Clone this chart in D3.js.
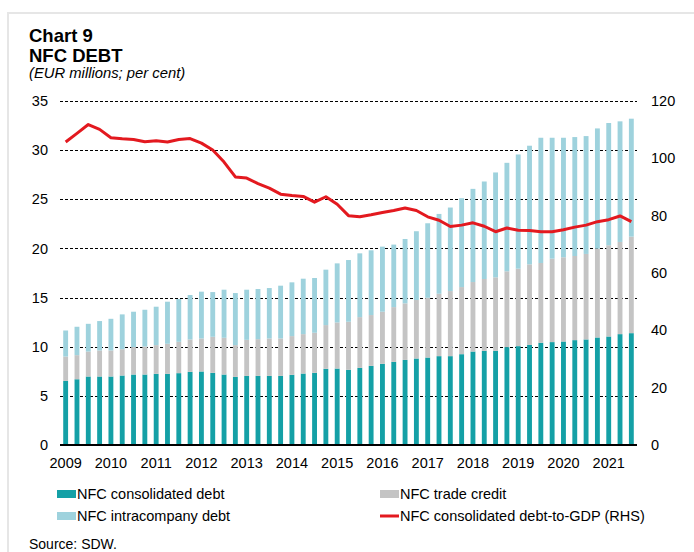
<!DOCTYPE html>
<html>
<head>
<meta charset="utf-8">
<script src="https://cdn.jsdelivr.net/npm/d3@7"></script>
<style>
  html, body { margin: 0; padding: 0; background: #fff; }
  svg { display: block; font-family: "Liberation Sans", Arial, sans-serif; }
</style>
</head>
<body>
<svg id="chart" width="694" height="552"></svg>
<script>
// Quarters 2009Q1 .. 2021Q3
const years = [2009,2010,2011,2012,2013,2014,2015,2016,2017,2018,2019,2020,2021];
const quarters = [];
years.forEach(y => [1,2,3,4].forEach(q => { if (!(y === 2021 && q === 4)) quarters.push(y + "Q" + q); }));

// Cumulative top of each stacked segment (EUR millions, LHS)
const consolidatedDebt = [6.52,6.69,6.97,6.97,6.97,7.07,7.17,7.17,7.24,7.24,7.31,7.44,7.48,
  7.34,7.17,6.93,7.03,7.03,7.03,7.03,7.14,7.27,7.34,7.75,7.78,7.65,
  7.85,8.05,8.26,8.46,8.66,8.80,8.90,9.04,9.04,9.24,9.51,9.58,
  9.58,9.96,10.06,10.19,10.40,10.47,10.53,10.67,10.74,10.94,11.04,11.28,11.38];
const tradeCreditTop = [9.00,9.14,9.51,9.62,9.62,9.75,9.96,10.02,10.16,10.30,10.50,10.74,10.84,
  11.01,10.91,10.16,10.70,10.77,10.84,10.84,11.08,11.28,11.42,12.20,12.47,12.54,
  13.01,13.22,13.56,14.03,14.41,14.75,14.98,15.39,15.66,16.07,16.58,16.89,
  17.06,17.67,17.94,18.38,18.52,18.96,19.10,19.23,19.44,19.98,20.32,20.66,21.20];
const intracompanyTop = [11.65,12.03,12.33,12.61,12.84,13.29,13.56,13.76,14.07,14.58,14.85,15.26,15.60,
  15.56,15.80,15.46,15.80,15.87,15.97,16.21,16.55,16.92,16.99,17.84,18.48,18.82,
  19.50,19.81,20.18,20.39,20.96,21.75,22.56,23.51,24.16,25.11,26.06,26.81,
  27.73,28.71,29.56,30.45,31.26,31.26,31.26,31.33,31.43,32.21,32.76,32.93,33.20];
// Debt-to-GDP (per cent, RHS)
const debtToGDP = [105.7,108.7,111.8,110.1,107.2,106.8,106.6,105.8,106.1,105.7,106.6,106.9,105.3,
  102.9,98.7,93.5,93.1,91.2,89.6,87.5,87.0,86.7,84.7,86.6,84.0,80.0,
  79.6,80.3,81.1,81.8,82.7,81.8,79.6,78.4,76.2,76.7,77.5,76.3,
  74.4,75.7,74.9,74.8,74.4,74.4,75.1,76.0,76.7,77.9,78.6,79.9,77.9];

const tradeCredit = tradeCreditTop.map((v, i) => +(v - consolidatedDebt[i]).toFixed(2));
const intracompany = intracompanyTop.map((v, i) => +(v - tradeCreditTop[i]).toFixed(2));

const leftTicks = [0,5,10,15,20,25,30,35];
const rightTicks = [0,20,40,60,80,100,120];
const seriesNames = ["NFC consolidated debt","NFC trade credit","NFC intracompany debt"];
const lineName = "NFC consolidated debt-to-GDP (RHS)";
const colors = { "NFC consolidated debt": "#14a0a6", "NFC trade credit": "#c4c4c4", "NFC intracompany debt": "#9ed2dd" };
const lineColor = "#e3191f";

const svg = d3.select("#chart");
const m = { left: 60, right: 637, top: 101, bottom: 445 };
const FONT = "Liberation Sans, Arial, sans-serif";
const fs = 14.5;

// Frame
svg.append("path").attr("d", "M8,560 L8,13 L700,13").attr("fill", "none")
  .attr("stroke", "#e6e6e6").attr("stroke-width", 2);

// Titles
svg.append("text").attr("x", 29).attr("y", 42).attr("font-size", 18.5).attr("font-weight", "bold").text("Chart 9");
svg.append("text").attr("x", 29).attr("y", 62).attr("font-size", 18.5).attr("font-weight", "bold").text("NFC DEBT");
svg.append("text").attr("x", 29).attr("y", 78).attr("font-size", 14.8).attr("font-style", "italic").text("(EUR millions; per cent)");

const x = d3.scaleBand().domain(quarters).range([m.left, m.right]).paddingInner(0.57).paddingOuter(0.285);
const yL = d3.scaleLinear().domain([0, 35]).range([m.bottom, m.top]);
const yR = d3.scaleLinear().domain([0, 120]).range([m.bottom, m.top]);

// Gridlines
svg.append("g").selectAll("line").data(leftTicks.filter(d => d > 0)).join("line")
  .attr("x1", m.left).attr("x2", m.right)
  .attr("y1", d => Math.round(yL(d)) + 0.5).attr("y2", d => Math.round(yL(d)) + 0.5)
  .attr("stroke", "#000").attr("stroke-width", 1).attr("stroke-dasharray", "3,2");

// Stacked bars
const table = quarters.map((q, i) => ({
  q,
  "NFC consolidated debt": consolidatedDebt[i],
  "NFC trade credit": tradeCredit[i],
  "NFC intracompany debt": intracompany[i]
}));
const stack = d3.stack().keys(seriesNames)(table);
svg.append("g").selectAll("g").data(stack).join("g")
  .attr("fill", d => colors[d.key])
  .selectAll("rect").data(d => d).join("rect")
  .attr("x", d => x(d.data.q))
  .attr("width", x.bandwidth())
  .attr("y", d => yL(d[1]))
  .attr("height", d => yL(d[0]) - yL(d[1]));

// Line
const line = d3.line().x((d, i) => x(quarters[i]) + x.bandwidth() / 2).y(d => yR(d));
svg.append("path").datum(debtToGDP).attr("d", line).attr("fill", "none")
  .attr("stroke", lineColor).attr("stroke-width", 3).attr("stroke-linejoin", "round");

// Baseline axis
svg.append("line").attr("x1", m.left).attr("x2", m.right).attr("y1", m.bottom).attr("y2", m.bottom)
  .attr("stroke", "#000").attr("stroke-width", 2);

// Left axis labels
const axL = svg.append("g").attr("transform", `translate(${m.left - 12},0)`)
  .call(d3.axisLeft(yL).tickValues(leftTicks).tickSize(0).tickPadding(0));
axL.select(".domain").remove();
axL.selectAll("text").attr("font-size", fs).attr("fill", "#000").attr("font-family", FONT);

// Right axis labels
const axR = svg.append("g").attr("transform", `translate(${m.right + 14},0)`)
  .call(d3.axisRight(yR).tickValues(rightTicks).tickSize(0).tickPadding(0));
axR.select(".domain").remove();
axR.selectAll("text").attr("font-size", fs).attr("fill", "#000").attr("font-family", FONT);

// X labels (Q1 of each year)
const axX = svg.append("g").attr("transform", `translate(0,${m.bottom + 12.5})`)
  .call(d3.axisBottom(x).tickValues(years.map(y => y + "Q1")).tickFormat(d => d.slice(0, 4)).tickSize(0).tickPadding(0));
axX.select(".domain").remove();
axX.selectAll("text").attr("font-size", fs).attr("fill", "#000").attr("font-family", FONT);

// Legend
const leg = [
  { name: seriesNames[0], type: "rect", x: 57, y: 494 },
  { name: seriesNames[1], type: "rect", x: 380, y: 494 },
  { name: seriesNames[2], type: "rect", x: 57, y: 516 },
  { name: lineName, type: "line", x: 380, y: 516 }
];
const lg = svg.append("g").selectAll("g").data(leg).join("g")
  .attr("transform", d => `translate(${d.x},${d.y})`);
lg.filter(d => d.type === "rect").append("rect")
  .attr("x", 0).attr("y", -4).attr("width", 19).attr("height", 8)
  .attr("fill", d => colors[d.name]);
lg.filter(d => d.type === "line").append("line")
  .attr("x1", 0).attr("x2", 19).attr("y1", 0).attr("y2", 0)
  .attr("stroke", lineColor).attr("stroke-width", 3);
lg.append("text").attr("x", 20).attr("y", 0).attr("dy", "0.36em")
  .attr("font-size", fs).text(d => d.name);

// Source
svg.append("text").attr("x", 29).attr("y", 549).attr("font-size", 14).text("Source: SDW.");
</script>
</body>
</html>
